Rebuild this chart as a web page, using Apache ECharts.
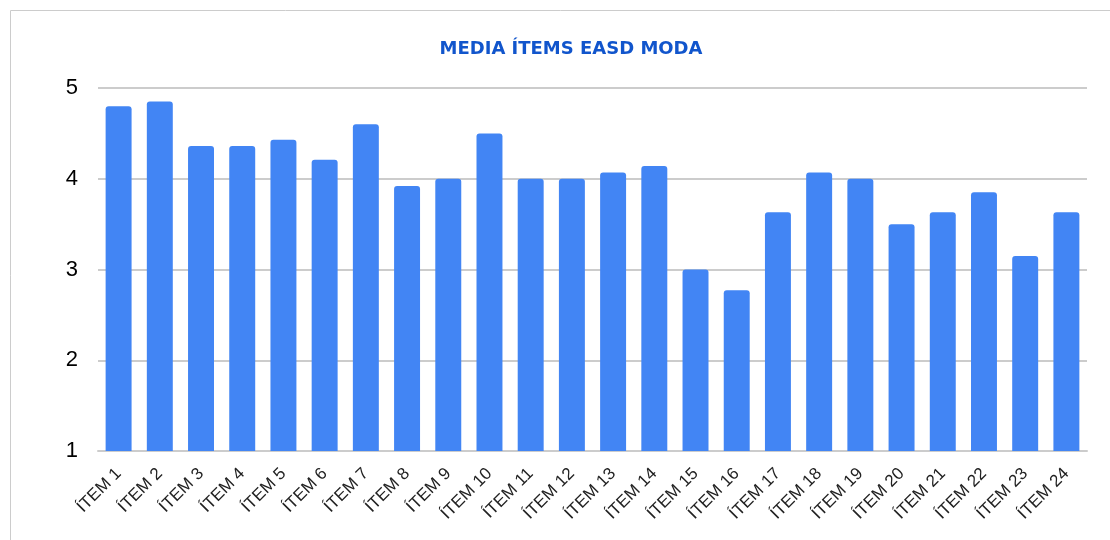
<!doctype html>
<html>
<head>
<meta charset="utf-8">
<title>MEDIA ÍTEMS EASD MODA</title>
<style>
  html, body { margin: 0; padding: 0; background: #fff; }
  #main { width: 1110px; height: 540px; }
</style>
</head>
<body>
<div id="main"></div>
<script src="https://cdn.jsdelivr.net/npm/echarts@6/dist/echarts.min.js"></script>
<script>
var items = [];
for (var i = 1; i <= 24; i++) items.push('ÍTEM ' + i);

var medias = [4.80, 4.85, 4.36, 4.36, 4.43, 4.21, 4.60, 3.92, 4.00, 4.50, 4.00, 4.00,
              4.07, 4.14, 3.00, 2.77, 3.63, 4.07, 4.00, 3.50, 3.63, 3.85, 3.15, 3.63];

var chart = echarts.init(document.getElementById('main'));

chart.setOption({
    animation: false,
    title: {
        text: 'MEDIA ÍTEMS EASD MODA',
        left: 566,
        textAlign: 'center',
        top: 35,
        textStyle: { color: '#1155cc', fontSize: 18, fontWeight: 'bold', fontFamily: 'DejaVu Sans, Verdana' }
    },
    graphic: [{
        type: 'rect',
        shape: { x: 10.5, y: 10.5, width: 1110, height: 540 },
        style: { fill: 'none', stroke: '#cccccc', lineWidth: 1 },
        silent: true
    }],
    grid: { left: 98, right: 23, top: 88, bottom: 89 },
    xAxis: {
        type: 'category',
        data: items,
        axisTick: { show: false },
        axisLine: { lineStyle: { color: '#cccccc', width: 2 } },
        axisLabel: {
            rotate: 45,
            interval: 0,
            color: '#222',
            fontSize: 17,
            fontFamily: 'Liberation Sans, Arial',
            margin: 20
        }
    },
    yAxis: {
        type: 'value',
        min: 1,
        max: 5,
        interval: 1,
        axisLine: { show: false },
        axisTick: { show: false },
        splitLine: { lineStyle: { color: '#cccccc', width: 2 } },
        axisLabel: { color: '#000', fontSize: 22, fontFamily: 'Liberation Sans, Arial', margin: 20 }
    },
    series: [{
        type: 'bar',
        data: medias,
        barWidth: '63%',
        itemStyle: { color: '#4285f4', borderRadius: [3, 3, 0, 0] }
    }]
});

window.onresize = chart.resize;
</script>
</body>
</html>
